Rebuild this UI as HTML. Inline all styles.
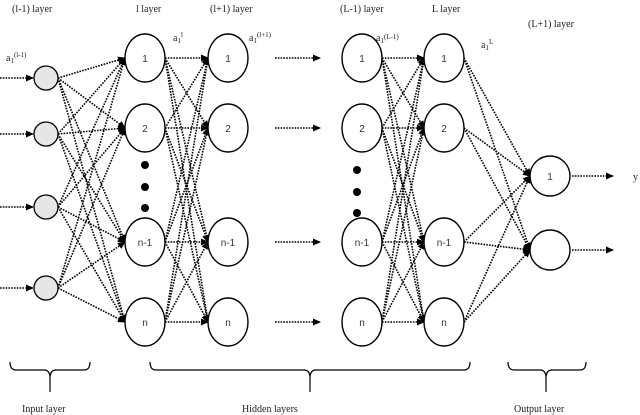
<!DOCTYPE html>
<html><head><meta charset="utf-8"><style>
html,body{margin:0;padding:0;background:#fff;width:640px;height:415px;overflow:hidden}
svg{display:block}
text{font-family:"Liberation Serif",serif;fill:#222}
.n{font-family:"Liberation Sans",sans-serif;font-size:10px;fill:#333}
</style></head><body>
<svg id="s" width="640" height="415" viewBox="0 0 640 415" xmlns="http://www.w3.org/2000/svg">
<defs><marker id="a" markerWidth="8" markerHeight="8" refX="7" refY="4" orient="auto" markerUnits="userSpaceOnUse"><path d="M0,0.5 L8,4 L0,7.5z" fill="#000"/></marker></defs>
<g id="lines" stroke="#000" stroke-width="1.6" stroke-dasharray="1.6,1.2" fill="none"></g>
<g id="nodes"></g>
<g font-size="10">
<text x="12" y="12">(l-1) layer</text>
<text x="136" y="12">l layer</text>
<text x="210" y="12">(l+1) layer</text>
<text x="340" y="12">(L-1) layer</text>
<text x="432" y="12">L layer</text>
<text x="528" y="27">(L+1) layer</text>
<text x="6" y="61">a<tspan font-size="7" dy="2">1</tspan><tspan font-size="7" dy="-6">(l-1)</tspan></text>
<text x="173" y="41">a<tspan font-size="7" dy="2">1</tspan><tspan font-size="7" dy="-6">l</tspan></text>
<text x="249" y="41">a<tspan font-size="7" dy="2">1</tspan><tspan font-size="7" dy="-6">(l+1)</tspan></text>
<text x="376" y="41">a<tspan font-size="7" dy="2">1</tspan><tspan font-size="7" dy="-4">(L-1)</tspan></text>
<text x="481" y="48">a<tspan font-size="7" dy="2">1</tspan><tspan font-size="7" dy="-6">L</tspan></text>
<text x="633" y="180" font-family="Liberation Sans">y</text>
<text x="22" y="412">Input layer</text>
<text x="242" y="412">Hidden layers</text>
<text x="514" y="412">Output layer</text>
</g>
<g stroke="#000" stroke-width="1.2" fill="none">
<path d="M10,362 Q10,370 16,370 L44,370 Q50,370 50,378 L50,392 M50,378 Q50,370 56,370 L84,370 Q90,370 90,362"/>
<path d="M150,362 Q150,370 156,370 L304,370 Q310,370 310,378 L310,392 M310,378 Q310,370 316,370 L464,370 Q470,370 470,362"/>
<path d="M508,362 Q508,370 514,370 L540,370 Q546,370 546,378 L546,392 M546,378 Q546,370 552,370 L580,370 Q586,370 586,362"/>
</g>
</svg>
<script>
var NS="http://www.w3.org/2000/svg",L=document.getElementById('lines'),N=document.getElementById('nodes');
function el(p,t,a){var e=document.createElementNS(NS,t);for(var k in a)e.setAttribute(k,a[k]);p.appendChild(e);return e;}
function line(x1,y1,x2,y2){el(L,'line',{x1:x1,y1:y1,x2:x2,y2:y2,'marker-end':'url(#a)'});}
var inp=[78,134,207,288],hy=[58,128,242,322],lab=['1','2','n-1','n'];
var cols=[145,228,362,444],rx=20,ry=24,out=[176,250];
// incoming arrows
inp.forEach(function(y){line(0,y,33,y);});
hy.forEach(function(y){line(275,y,320,y);});
out.forEach(function(y){line(572,y,613,y);});
// input -> l
inp.forEach(function(y1){hy.forEach(function(y2){line(58,y1,cols[0]-rx,y2);});});
// l -> l+1 and L-1 -> L
[[0,1],[2,3]].forEach(function(p){hy.forEach(function(y1){hy.forEach(function(y2){line(cols[p[0]]+rx,y1,cols[p[1]]-rx,y2);});});});
// L -> out
hy.forEach(function(y1){out.forEach(function(y2){line(cols[3]+rx,y1,550-20,y2);});});
inp.forEach(function(y){el(N,'circle',{cx:46,cy:y,r:12,fill:'#e6e6e6',stroke:'#000','stroke-width':1.3});});
cols.forEach(function(x){hy.forEach(function(y,i){el(N,'ellipse',{cx:x,cy:y,rx:rx,ry:ry,fill:'#fff',stroke:'#000','stroke-width':1.4});var t=el(N,'text',{x:x,y:y+4,'text-anchor':'middle','class':'n'});t.textContent=lab[i];});});
out.forEach(function(y,i){el(N,'circle',{cx:550,cy:y,r:20,fill:'#fff',stroke:'#000','stroke-width':1.4});if(i==0){var t=el(N,'text',{x:550,y:y+4,'text-anchor':'middle','class':'n'});t.textContent='1';}});
[165,187,208].forEach(function(y){el(N,'circle',{cx:145,cy:y,r:4,fill:'#000'});});
[170,192,213].forEach(function(y){el(N,'circle',{cx:357,cy:y,r:4,fill:'#000'});});
</script>
</body></html>
